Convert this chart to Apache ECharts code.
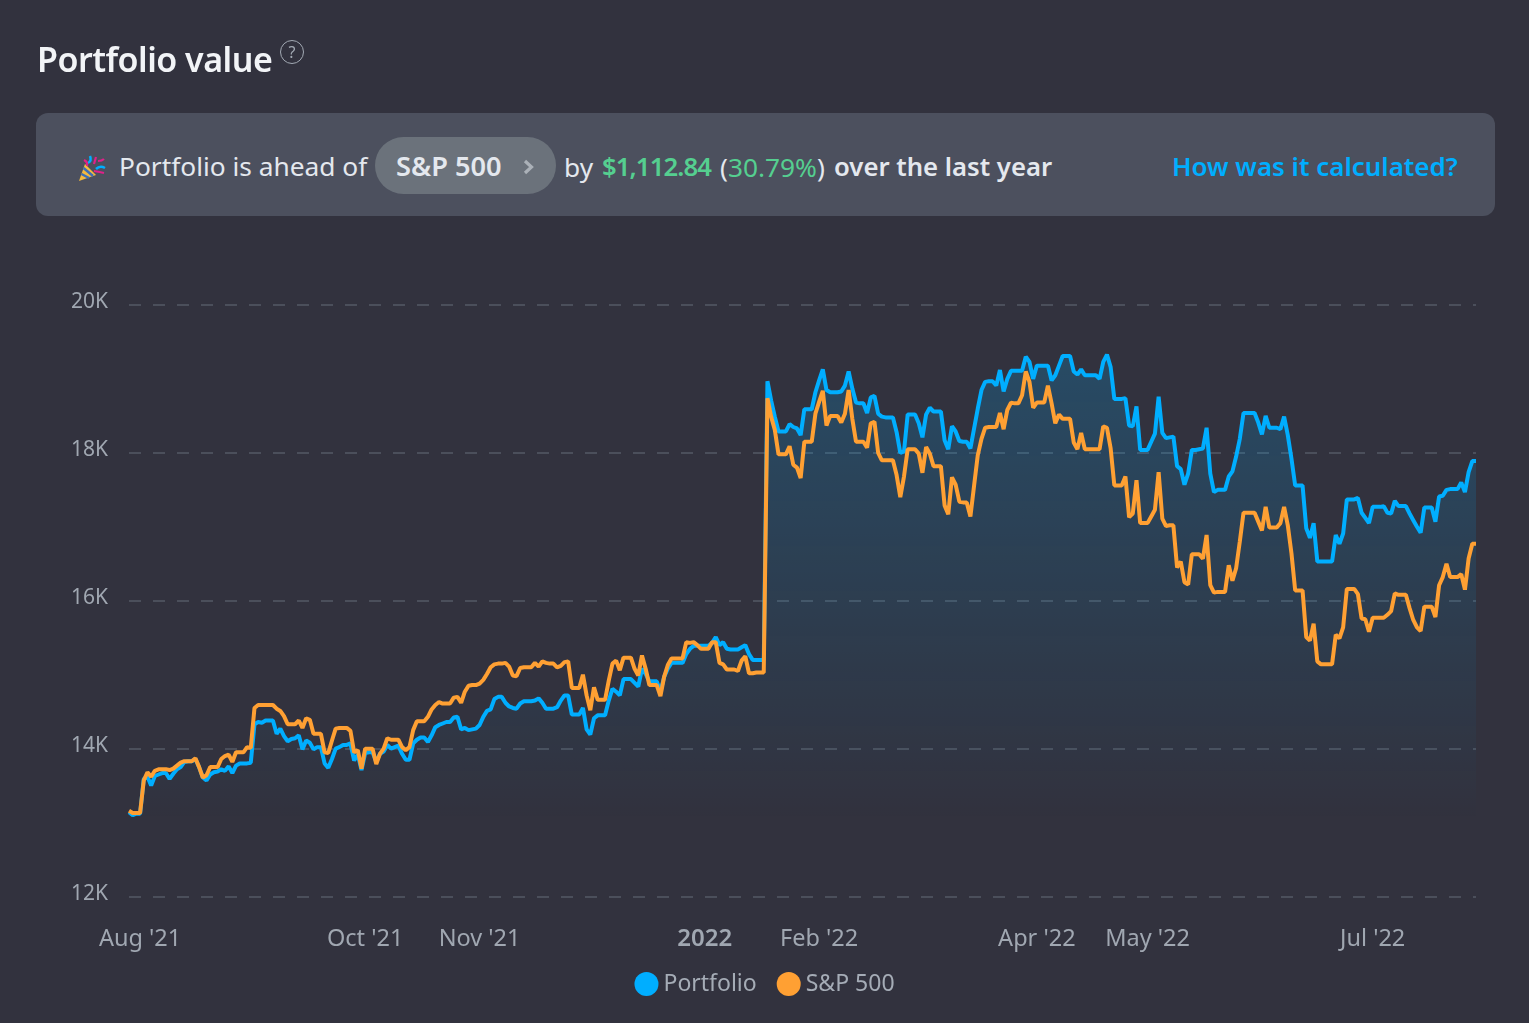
<!DOCTYPE html>
<html>
<head>
<meta charset="utf-8">
<title>Portfolio value</title>
<script src="https://cdn.jsdelivr.net/npm/echarts@6/dist/echarts.min.js"></script>
<style>
	html, body { margin: 0; padding: 0; width: 1529px; height: 1023px; overflow: hidden; background: #32323e; font-family: "Noto Sans", sans-serif; }
	#chart { position: absolute; left: 0; top: 0; width: 1529px; height: 1023px; }
	.t { position: absolute; white-space: nowrap; line-height: 36px; font-size: 26.3px; color: #e4e8ee; }
	.b { font-weight: 600; font-size: 25.7px; }
	.g { color: #55cf90; }
	#title { position: absolute; left: 37px; top: 36px; font-size: 34px; letter-spacing: -0.5px; line-height: 46px; font-weight: 600; color: #f2f4f7; white-space: nowrap; }
	#help { position: absolute; left: 280px; top: 40px; width: 22px; height: 22px; border: 1.5px solid #a3aab4; border-radius: 50%; color: #a3aab4; font-size: 16px; line-height: 22px; text-align: center; }
	#banner { position: absolute; left: 36px; top: 113px; width: 1459px; height: 103px; border-radius: 12px; background: #4c505e; }
	#pill { position: absolute; left: 375px; top: 137px; width: 181px; height: 57px; border-radius: 29px; background: #6b727b; }
	#popper { position: absolute; left: 78px; top: 154px; }
</style>
</head>
<body>
<div id="chart"></div>
<div id="title">Portfolio value</div>
<div id="help">?</div>
<div id="banner"></div>
<div id="pill"></div>
<svg id="popper" width="28" height="28" viewBox="0 0 28 28">
	<path d="M1 27 L7 10 L18 21 Z" fill="#f4b93f"/>
	<path d="M3.5 20 L11 24 M5.5 14 L15 22" stroke="#3d6fb5" stroke-width="2.5"/>
	<path d="M10 9 Q14 7 12 2 M18 15 Q22 11 27 14" stroke="#00aeff" stroke-width="2.5" fill="none"/>
	<path d="M6 6 Q10 8 9 12 M16 17 Q22 18 26 19 M18 3 L16 10 M20 7 Q24 7 26 5" stroke="#e0218a" stroke-width="2.2" fill="none"/>
</svg>
<span class="t" style="left:119px;top:148px">Portfolio is ahead of</span>
<span class="t b" style="left:396px;top:148px;font-size:27.2px">S&amp;P 500</span>
<svg style="position:absolute;left:522px;top:159px" width="14" height="16" viewBox="0 0 14 16"><path d="M3 2 L9.5 8 L3 14" stroke="#abb1b8" stroke-width="3.2" fill="none"/></svg>
<span class="t" style="left:564px;top:149px">by</span>
<span class="t b g" style="left:602px;top:149px;letter-spacing:-0.9px">$1,112.84</span>
<span class="t" style="left:720px;top:149px">(<span class="g">30.79%</span>)</span>
<span class="t b" style="left:834px;top:149px">over the last year</span>
<span class="t b" style="left:1172px;top:148px;color:#00aeff;font-size:25.95px">How was it calculated?</span>
<script>
// daily closes, first day is 2021-07-29
var startDay = Date.UTC(2021, 6, 29);

var portfolioValues = [
	13140,13100,13120,13120,13590,13620,13500,13630,13650,13670,13670,13590,13660,13720,13750,13820,13830,13830,13860,13750,13610,13570,13650,13680,13690,13720,13700,13760,13670,13770,13800,13800,13800,13810,
	14330,14360,14350,14380,14380,14380,14200,14270,14170,14100,14130,14140,14180,13990,14110,14080,13990,14020,14020,13800,13740,13860,14000,14020,14050,14050,14070,13840,13920,13710,
	13940,13950,13950,13820,13930,13960,14050,14000,14020,14040,13930,13850,13850,14070,14120,14150,14150,14090,14180,14290,14320,14340,14360,14360,14420,14430,14260,14280,14250,14260,14270,
	14320,14430,14510,14530,14670,14700,14700,14620,14570,14550,14540,14610,14640,14640,14640,14650,14680,14620,14540,14540,14540,14560,14650,14720,14720,14460,14460,14460,14550,14260,
	14190,14410,14450,14450,14450,14650,14810,14770,14720,14940,14940,14940,14890,14840,15080,15010,14910,14910,14910,14770,14970,15080,15160,15160,15160,15160,15280,15350,15390,15390,15390,
	15390,15390,15430,15510,15400,15440,15350,15340,15340,15340,15370,15400,15280,15200,15200,15200,15200,18970,18710,18490,18290,18290,18290,18390,18350,18330,18240,18590,18590,18590,18820,
	18980,19130,18850,18820,18820,18820,18830,18910,19100,18870,18680,18670,18670,18540,18750,18770,18530,18490,18480,18480,18480,18280,18000,18020,18520,18520,18520,18400,18210,18520,18610,18560,18560,18560,18170,18050,18360,18290,18160,18150,18150,18060,18330,18600,18850,18960,18970,18970,18910,19120,18830,19000,19110,19110,19110,19110,
	19300,19230,19000,19180,19180,19180,19180,18980,19050,19180,19310,19310,19310,19100,19060,19130,19050,19050,19050,19050,19000,19230,19330,19160,18730,18730,18730,18740,18370,18360,18630,18040,18040,18040,
	18150,18260,18760,18270,18200,18210,18220,17820,17780,17570,17720,18040,18040,18050,18060,18340,17720,17470,17500,17500,17500,17680,17750,17950,18190,18540,18540,18540,18540,18410,18250,18500,18340,18340,18340,18320,18490,18240,17920,17560,17560,17560,
	16980,16850,17050,16530,16530,16530,16530,16530,16890,16770,16910,17370,17370,17370,17390,17190,17120,17050,17270,17270,17270,17280,17190,17180,17350,17280,17280,17280,17180,17090,17000,16920,17260,17260,17260,17070,17410,17420,17500,17510,17510,17510,17600,17470,17740,17890,17890
];

var sp500Values = [
	13160,13130,13130,13130,13570,13680,13620,13700,13720,13720,13720,13710,13730,13770,13810,13830,13830,13830,13870,13750,13610,13640,13750,13750,13750,13860,13900,13920,13820,13950,13950,13950,14020,14010,
	14550,14590,14590,14590,14590,14590,14540,14510,14440,14330,14330,14330,14380,14280,14410,14390,14200,14200,14200,13950,13940,14110,14270,14280,14280,14280,14240,13950,13980,13730,
	14000,14000,14000,13790,13930,14000,14140,14120,14120,14120,14020,13980,14020,14250,14370,14370,14370,14430,14530,14590,14630,14610,14610,14610,14690,14700,14620,14770,14850,14860,14860,
	14880,14930,15010,15100,15140,15150,15150,15160,15110,14990,14980,15090,15100,15100,15100,15160,15110,15180,15160,15150,15150,15100,15120,15170,15180,14820,14820,14820,15000,14720,
	14520,14830,14660,14660,14660,14920,15150,15190,15060,15230,15230,15230,15080,14990,15260,15080,14860,14860,14860,14710,14970,15130,15220,15220,15220,15220,15440,15430,15440,15400,15350,
	15350,15350,15440,15440,15160,15140,15070,15070,15070,15050,15190,15250,15020,15020,15030,15030,15030,18740,18490,18310,17980,17980,17980,18090,17840,17800,17660,18150,18150,18150,18530,
	18690,18840,18370,18500,18500,18500,18410,18530,18850,18460,18150,18150,18150,18070,18400,18420,18000,17900,17900,17900,17900,17700,17400,17680,18050,18050,18050,17990,17730,18080,17990,17820,17820,17820,17290,17170,17670,17570,17340,17330,17330,17140,17560,17970,18190,18340,18350,18350,18350,18540,18320,18580,18680,18670,18670,18780,
	19100,18960,18610,18680,18680,18680,18910,18670,18400,18520,18460,18460,18460,18140,18050,18270,18050,18050,18050,18050,18050,18360,18340,18060,17560,17560,17560,17680,17130,17180,17630,17050,17050,17050,
	17140,17230,17740,17110,17010,17020,17020,16450,16530,16250,16220,16630,16630,16630,16570,16890,16210,16110,16120,16120,16120,16480,16270,16440,16800,17190,17190,17190,17190,17070,16950,17270,16990,16990,16990,17050,17270,17020,16640,16140,16140,16140,
	15510,15460,15690,15180,15140,15140,15140,15140,15540,15490,15640,16160,16160,16160,16090,15760,15750,15580,15770,15770,15770,15770,15810,15860,16100,16080,16080,16080,15900,15740,15640,15590,15920,15920,15920,15780,16210,16320,16500,16320,16320,16320,16360,16150,16570,16770,16770
];

// first of month positions in the daily list, and what they print
var tickDays = [3, 64, 95, 156, 187, 246, 276, 337];
var tickLabels = ["Aug '21", "Oct '21", "Nov '21", "2022", "Feb '22", "Apr '22", "May '22", "Jul '22"];

var days = [];
for (var i = 0; i < portfolioValues.length; i++) {
	days.push(new Date(startDay + i * 86400000).toISOString().slice(0, 10));
}

var myChart = echarts.init(document.getElementById('chart'));
myChart.setOption({
	animation: false,
	backgroundColor: 'transparent',
	textStyle: { fontFamily: '"Noto Sans", sans-serif' },
	grid: { left: 129, right: 53, top: 305, bottom: 126.5 },
	tooltip: { trigger: 'axis' },
	legend: {
		bottom: 22,
		left: 'center',
		icon: 'circle',
		itemWidth: 24,
		itemHeight: 24,
		itemGap: 20,
		selectedMode: false,
		textStyle: { color: '#a5acb6', fontSize: 23, fontFamily: '"Noto Sans", sans-serif' },
		data: ['Portfolio', 'S&P 500']
	},
	xAxis: {
		type: 'category',
		boundaryGap: false,
		data: days,
		axisLine: { show: false },
		axisTick: { show: false },
		splitLine: { show: false },
		axisLabel: {
			color: '#a0a7b1',
			fontSize: 23.5,
			fontFamily: '"Noto Sans", sans-serif',
			margin: 31,
			interval: function(index) { return tickDays.indexOf(index) >= 0; },
			formatter: function(value, index) {
				var label = tickLabels[tickDays.indexOf(index)];
				return label === '2022' ? '{bold|2022}' : label;
			},
			rich: { bold: { fontWeight: 600, fontSize: 24, color: '#a0a7b1', fontFamily: '"Noto Sans", sans-serif' } }
		}
	},
	yAxis: {
		type: 'value',
		min: 12000,
		max: 20000,
		interval: 2000,
		axisLine: { show: false },
		axisTick: { show: false },
		axisLabel: {
			color: '#a0a7b1',
			fontSize: 21,
			fontFamily: '"Noto Sans", sans-serif',
			margin: 21,
			verticalAlign: 'bottom',
			lineHeight: 5,
			formatter: function(v) { return v / 1000 + 'K'; }
		},
		splitLine: { lineStyle: { color: '#4b4f5b', width: 2, type: [12, 12] } }
	},
	series: [
		{
			name: 'Portfolio',
			type: 'line',
			data: portfolioValues,
			showSymbol: false,
			itemStyle: { color: '#00aeff' },
			lineStyle: { color: '#00aeff', width: 4 },
			areaStyle: {
				color: new echarts.graphic.LinearGradient(0, 0, 0, 1, [
					{ offset: 0, color: 'rgba(0,174,255,0.29)' },
					{ offset: 0.86, color: 'rgba(0,174,255,0)' },
					{ offset: 1, color: 'rgba(0,174,255,0)' }
				])
			}
		},
		{
			name: 'S&P 500',
			type: 'line',
			data: sp500Values,
			showSymbol: false,
			itemStyle: { color: '#ffa033' },
			lineStyle: { color: '#ffa033', width: 4 }
		}
	]
});
</script>
</body>
</html>
